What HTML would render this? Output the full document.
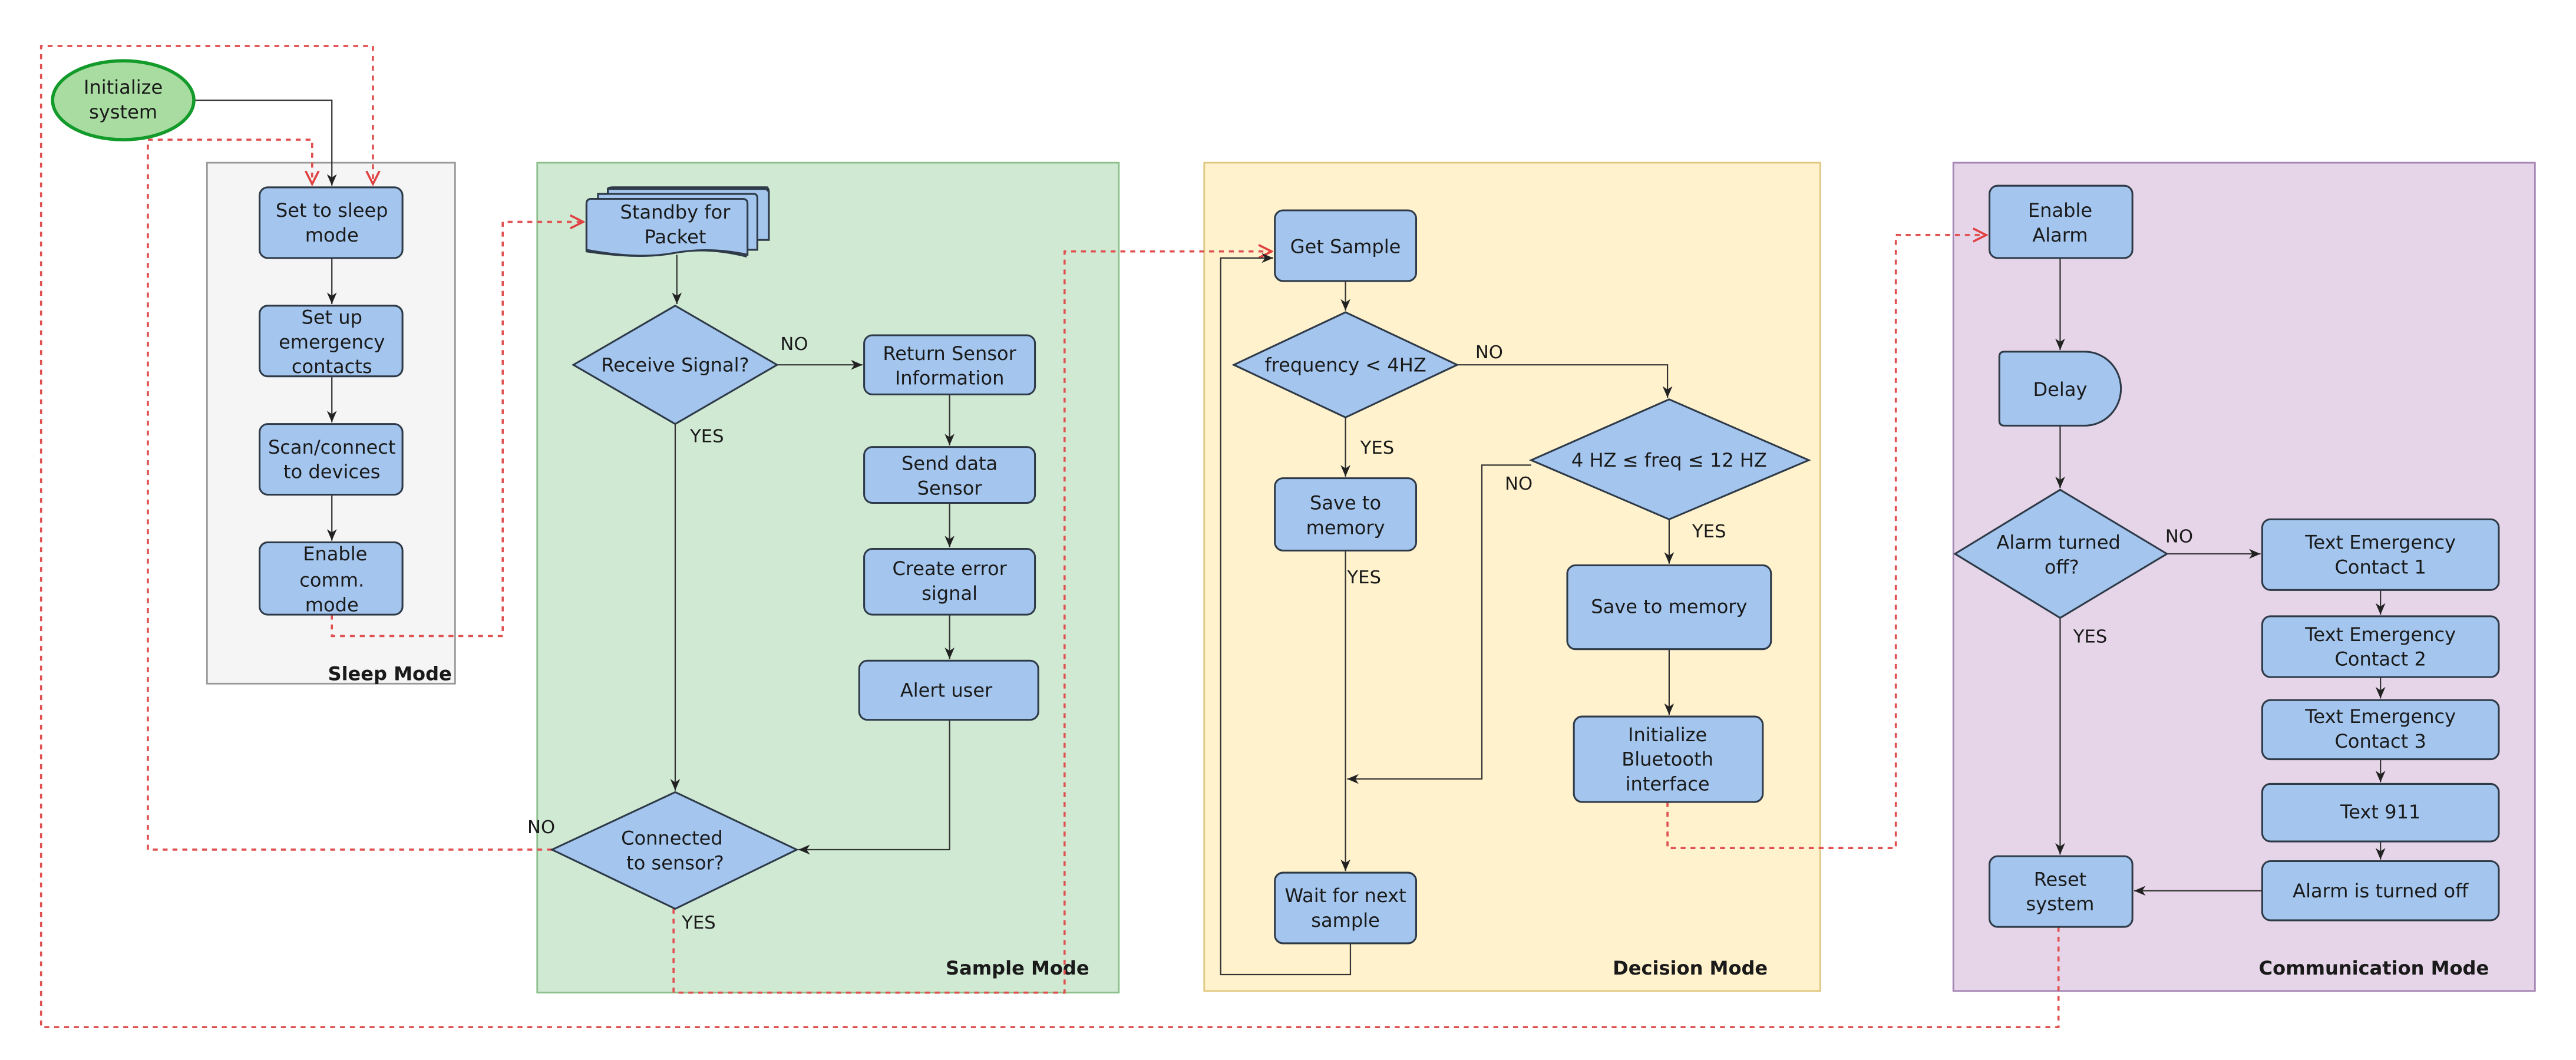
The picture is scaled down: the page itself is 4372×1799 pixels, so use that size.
<!DOCTYPE html>
<html><head><meta charset="utf-8"><style>
html,body{margin:0;padding:0;background:#fff;}
svg{display:block;}
text{font-family:"DejaVu Sans","Liberation Sans",sans-serif;font-size:11.5px;fill:#1a1a1a;text-anchor:middle;}
.b{fill:#a4c6ee;stroke:#2e3a48;stroke-width:1.1;}
.l{fill:none;stroke:#333;stroke-width:0.8;}
.r{fill:none;stroke:#e05050;stroke-width:1.3;stroke-dasharray:3,3;}
.lab{font-size:11px;text-anchor:start;}
.grp{font-weight:bold;font-size:11.5px;text-anchor:end;}
</style></head><body>
<svg width="4372" height="1799" viewBox="0 0 1568 645" preserveAspectRatio="none" xmlns="http://www.w3.org/2000/svg">
<defs>
<marker id="ab" markerWidth="8" markerHeight="8" refX="7" refY="4" orient="auto" markerUnits="userSpaceOnUse"><path d="M0,1 L7,4 L0,7 L2,4 z" fill="#222"/></marker>
<marker id="ar" markerWidth="9" markerHeight="9" refX="8" refY="4.5" orient="auto" markerUnits="userSpaceOnUse"><path d="M0,0.5 L8,4.5 L0,8.5" fill="none" stroke="#e04040" stroke-width="1.3"/></marker>
</defs>
<!-- groups -->
<rect x="126" y="99" width="151" height="317" fill="#f5f5f5" stroke="#999" stroke-width="1"/>
<rect x="327" y="99" width="354" height="505" fill="#d0e9d3" stroke="#8cc08a" stroke-width="1"/>
<rect x="733" y="99" width="375" height="504" fill="#fff2cc" stroke="#e0c880" stroke-width="1"/>
<rect x="1189" y="99" width="354" height="504" fill="#e6d5e8" stroke="#a585b5" stroke-width="1"/>
<text class="grp" x="275" y="414">Sleep Mode</text>
<text class="grp" x="663" y="593">Sample Mode</text>
<text class="grp" x="1076" y="593">Decision Mode</text>
<text class="grp" x="1515" y="593">Communication Mode</text>

<!-- red dashed -->
<path class="r" d="M1253,564 V625 H25 V28 H227 V112" marker-end="url(#ar)"/>
<path class="r" d="M336,517 H90 V85 H190 V112" marker-end="url(#ar)"/>
<path class="r" d="M202,374 V387 H306 V135 H355" marker-end="url(#ar)"/>
<path class="r" d="M410,553 V604 H648 V153 H774" marker-end="url(#ar)"/>
<path class="r" d="M1015,488 V516 H1154 V143 H1209" marker-end="url(#ar)"/>

<!-- black lines -->
<path class="l" d="M118,61 H202 V113" marker-end="url(#ab)"/>
<path class="l" d="M202,157 V185" marker-end="url(#ab)"/>
<path class="l" d="M202,229 V257" marker-end="url(#ab)"/>
<path class="l" d="M202,301 V329" marker-end="url(#ab)"/>
<path class="l" d="M412,155 V185" marker-end="url(#ab)"/>
<path class="l" d="M473,222 H525" marker-end="url(#ab)"/>
<path class="l" d="M578,240 V271" marker-end="url(#ab)"/>
<path class="l" d="M578,306 V333" marker-end="url(#ab)"/>
<path class="l" d="M578,374 V401" marker-end="url(#ab)"/>
<path class="l" d="M578,438 V517 H486" marker-end="url(#ab)"/>
<path class="l" d="M411,258 V481" marker-end="url(#ab)"/>

<path class="l" d="M819,171 V189" marker-end="url(#ab)"/>
<path class="l" d="M887,222 H1015 V242" marker-end="url(#ab)"/>
<path class="l" d="M819,254 V290" marker-end="url(#ab)"/>
<path class="l" d="M819,335 V530" marker-end="url(#ab)"/>
<path class="l" d="M932,283 H902 V474 H820" marker-end="url(#ab)"/>
<path class="l" d="M1016,316 V343" marker-end="url(#ab)"/>
<path class="l" d="M1016,395 V435" marker-end="url(#ab)"/>
<path class="l" d="M822,574 V593 H743 V157 H775" marker-end="url(#ab)"/>

<path class="l" d="M1254,157 V213" marker-end="url(#ab)"/>
<path class="l" d="M1254,259 V297" marker-end="url(#ab)"/>
<path class="l" d="M1319,337 H1376" marker-end="url(#ab)"/>
<path class="l" d="M1254,376 V520" marker-end="url(#ab)"/>
<path class="l" d="M1449,359 V374" marker-end="url(#ab)"/>
<path class="l" d="M1449,412 V425" marker-end="url(#ab)"/>
<path class="l" d="M1449,462 V476" marker-end="url(#ab)"/>
<path class="l" d="M1449,512 V523" marker-end="url(#ab)"/>
<path class="l" d="M1377,542 H1299" marker-end="url(#ab)"/>

<!-- start -->
<ellipse cx="75" cy="61" rx="43" ry="24" fill="#a8dca0" stroke="#129a2a" stroke-width="2"/>
<text x="75" y="57">Initialize</text><text x="75" y="72">system</text>

<!-- sleep -->
<rect class="b" x="158" y="114" width="87" height="43" rx="5"/>
<text x="202" y="132">Set to sleep</text><text x="202" y="147">mode</text>
<rect class="b" x="158" y="186" width="87" height="43" rx="5"/>
<text x="202" y="197">Set up</text><text x="202" y="212">emergency</text><text x="202" y="227">contacts</text>
<rect class="b" x="158" y="258" width="87" height="43" rx="5"/>
<text x="202" y="276">Scan/connect</text><text x="202" y="291">to devices</text>
<rect class="b" x="158" y="330" width="87" height="44" rx="5"/>
<text x="204" y="341">Enable</text><text x="202" y="357">comm.</text><text x="202" y="372">mode</text>

<!-- sample -->
<path class="b" d="M372,114 h95 v20 h-5 z" fill="#a4c6ee"/>
<path class="b" d="M370,115 Q370,114 373,114 H466 Q468,114 468,117 V146 H461 V152 H454 V156 Q430,150 410,154 Q390,158 357,153 V124 Q357,121 360,121 H364 V118 H370 Z"/>
<path class="b" d="M357,124 Q357,121 360,121 H452 Q455,121 455,124 V155 Q432,150 410,154 Q388,158 357,152 Z"/>
<path d="M364,121 V118 H459 Q461,118 461,121 V151 M370,118 V115 H465 Q468,115 468,118 V146" fill="none" stroke="#2e3a48" stroke-width="1.1"/>
<text x="411" y="133">Standby for</text><text x="411" y="148">Packet</text>

<polygon class="b" points="411,186 473,222 411,258 349,222"/>
<text x="411" y="226">Receive Signal?</text>
<rect class="b" x="526" y="204" width="104" height="36" rx="5"/>
<text x="578" y="219">Return Sensor</text><text x="578" y="234">Information</text>
<rect class="b" x="526" y="272" width="104" height="34" rx="5"/>
<text x="578" y="286">Send data</text><text x="578" y="301">Sensor</text>
<rect class="b" x="526" y="334" width="104" height="40" rx="5"/>
<text x="578" y="350">Create error</text><text x="578" y="365">signal</text>
<rect class="b" x="523" y="402" width="109" height="36" rx="5"/>
<text x="576" y="424">Alert user</text>
<polygon class="b" points="411,482 485,517 411,553 336,517"/>
<text x="409" y="514">Connected</text><text x="411" y="529">to sensor?</text>
<text class="lab" x="475" y="213">NO</text>
<text class="lab" x="420" y="269">YES</text>
<text class="lab" x="321" y="507">NO</text>
<text class="lab" x="415" y="565">YES</text>

<!-- decision -->
<rect class="b" x="776" y="128" width="86" height="43" rx="5"/>
<text x="819" y="154">Get Sample</text>
<polygon class="b" points="819,190 887,222 819,254 751,222"/>
<text x="819" y="226">frequency &lt; 4HZ</text>
<polygon class="b" points="1016,243 1101,280 1016,316 932,280"/>
<text x="1016" y="284">4 HZ ≤ freq ≤ 12 HZ</text>
<rect class="b" x="776" y="291" width="86" height="44" rx="5"/>
<text x="819" y="310">Save to</text><text x="819" y="325">memory</text>
<rect class="b" x="954" y="344" width="124" height="51" rx="5"/>
<text x="1016" y="373">Save to memory</text>
<rect class="b" x="958" y="436" width="115" height="52" rx="5"/>
<text x="1015" y="451">Initialize</text><text x="1015" y="466">Bluetooth</text><text x="1015" y="481">interface</text>
<rect class="b" x="776" y="531" width="86" height="43" rx="5"/>
<text x="819" y="549">Wait for next</text><text x="819" y="564">sample</text>
<text class="lab" x="898" y="218">NO</text>
<text class="lab" x="828" y="276">YES</text>
<text class="lab" x="916" y="298">NO</text>
<text class="lab" x="1030" y="327">YES</text>
<text class="lab" x="820" y="355">YES</text>

<!-- communication -->
<rect class="b" x="1211" y="113" width="87" height="44" rx="5"/>
<text x="1254" y="132">Enable</text><text x="1254" y="147">Alarm</text>
<path class="b" d="M1220,214 H1269 A22,22.5 0 0 1 1269,259 H1220 Q1217,259 1217,256 V217 Q1217,214 1220,214 Z"/>
<text x="1254" y="241">Delay</text>
<polygon class="b" points="1254,298 1319,337 1254,376 1190,337"/>
<text x="1253" y="334">Alarm turned</text><text x="1255" y="349">off?</text>
<rect class="b" x="1377" y="316" width="144" height="43" rx="5"/>
<text x="1449" y="334">Text Emergency</text><text x="1449" y="349">Contact 1</text>
<rect class="b" x="1377" y="375" width="144" height="37" rx="5"/>
<text x="1449" y="390">Text  Emergency</text><text x="1449" y="405">Contact 2</text>
<rect class="b" x="1377" y="426" width="144" height="36" rx="5"/>
<text x="1449" y="440">Text Emergency</text><text x="1449" y="455">Contact 3</text>
<rect class="b" x="1377" y="477" width="144" height="35" rx="5"/>
<text x="1449" y="498">Text 911</text>
<rect class="b" x="1377" y="524" width="144" height="36" rx="5"/>
<text x="1449" y="546">Alarm is turned off</text>
<rect class="b" x="1211" y="521" width="87" height="43" rx="5"/>
<text x="1254" y="539">Reset</text><text x="1254" y="554">system</text>
<text class="lab" x="1318" y="330">NO</text>
<text class="lab" x="1262" y="391">YES</text>
</svg>
</body></html>
